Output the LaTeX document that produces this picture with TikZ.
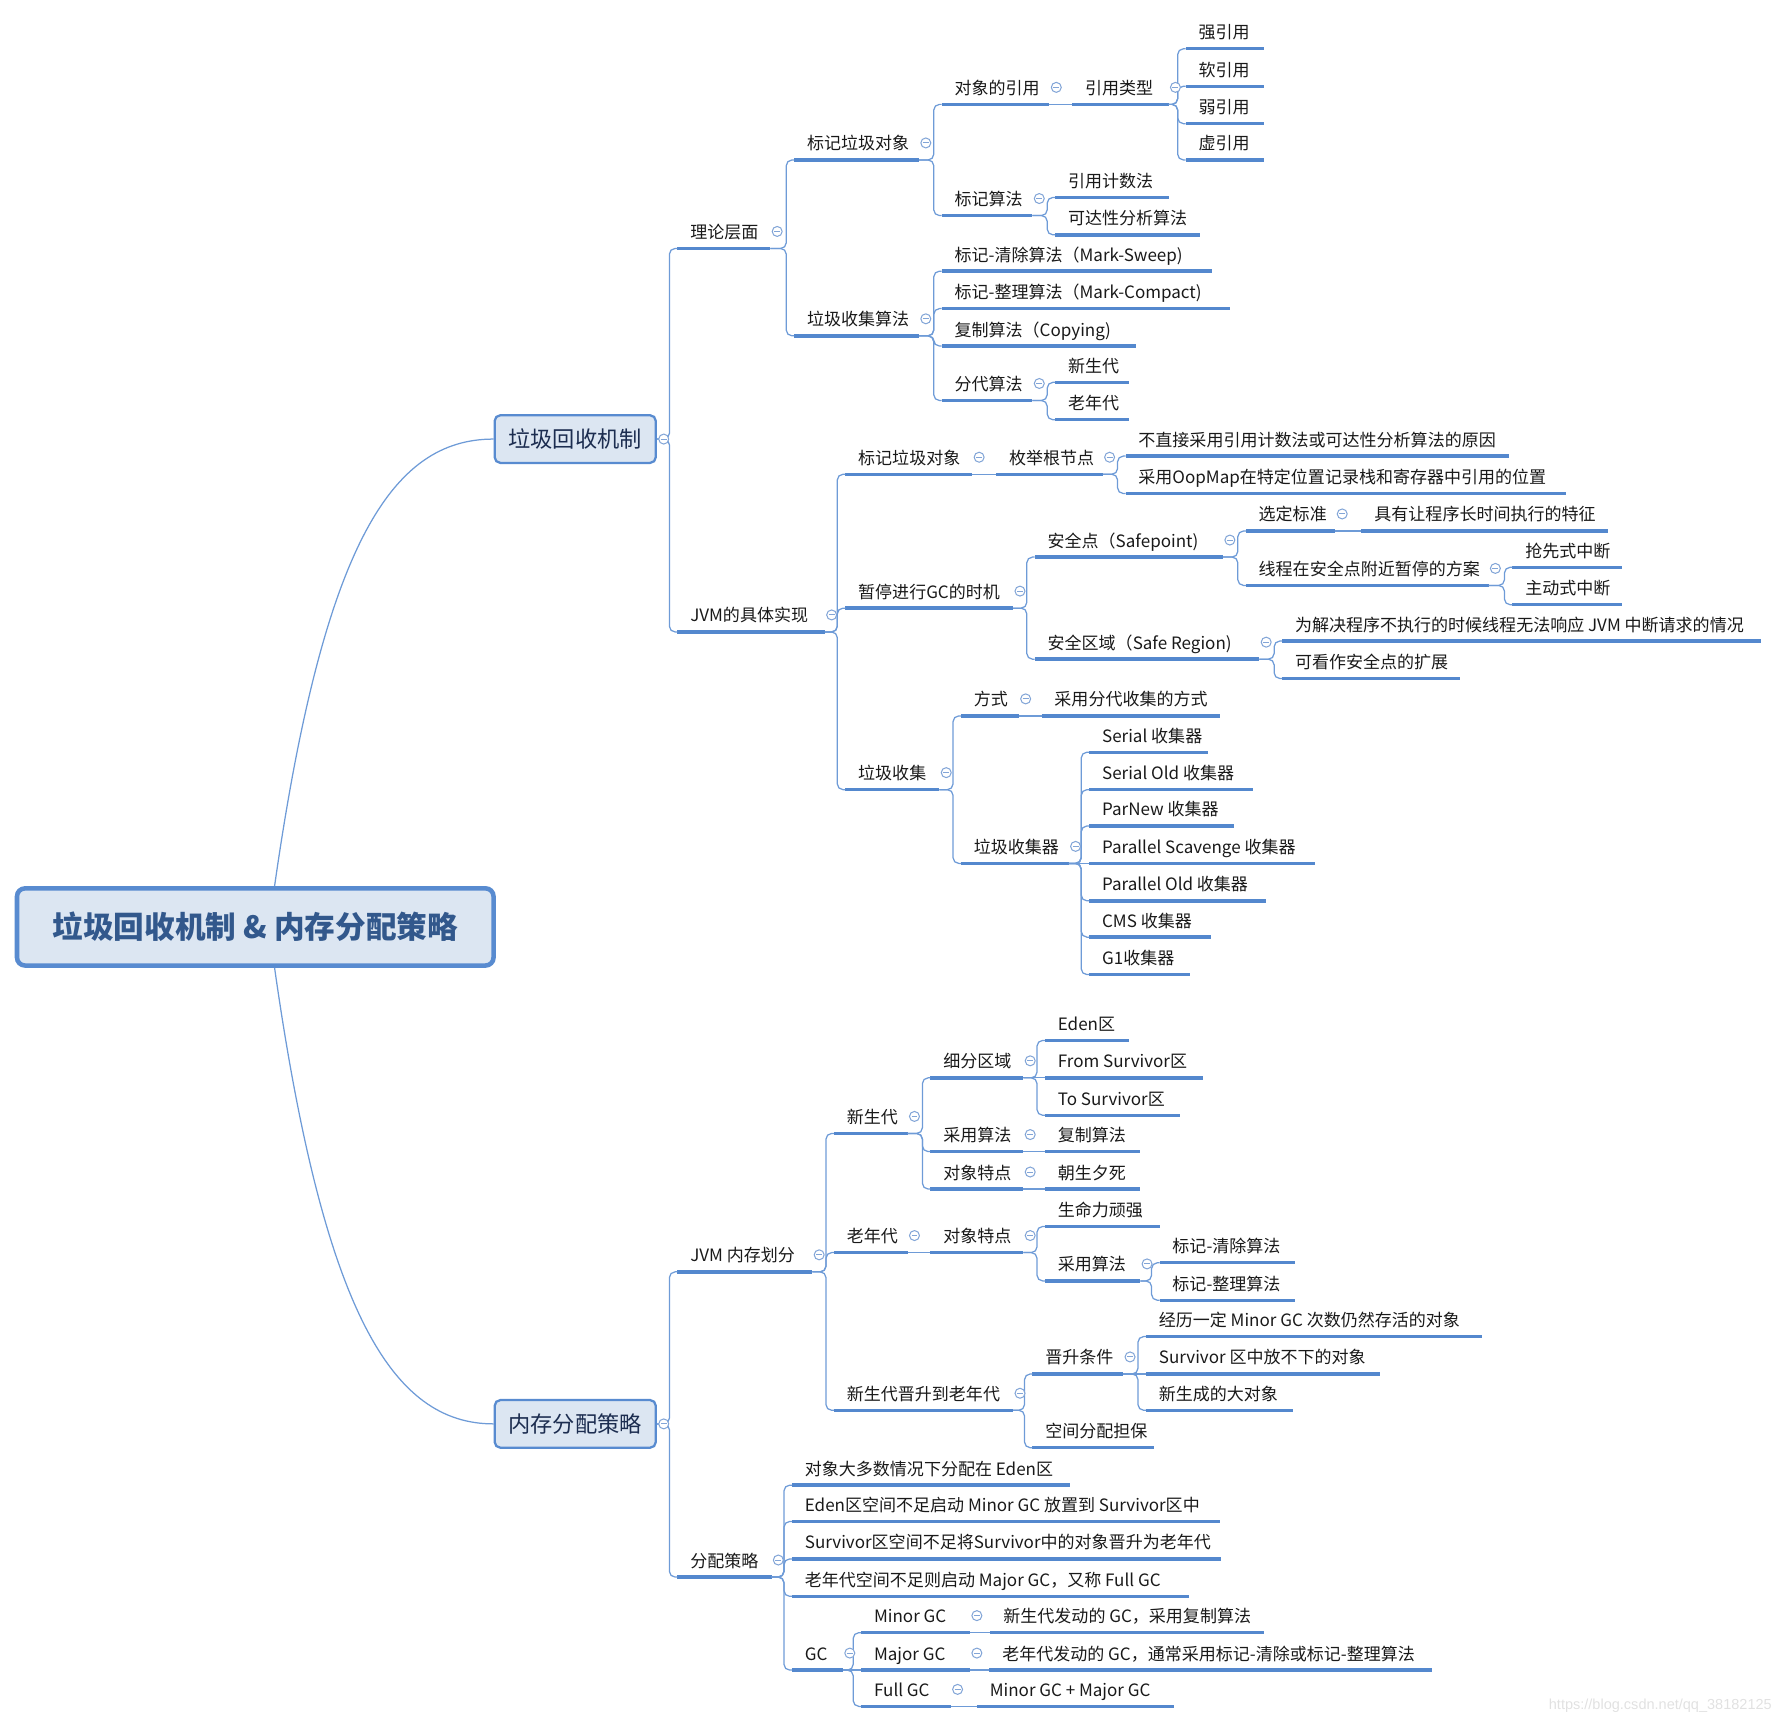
\documentclass[tikz,border=0pt]{standalone}
\usepackage{fontspec}
\setmainfont{Noto Sans CJK SC}
\newfontfamily\wmfont{Liberation Sans}
\usetikzlibrary{calc}
\definecolor{ulc}{RGB}{84,136,206}
\definecolor{cnc}{RGB}{110,155,215}
\definecolor{icc}{RGB}{130,165,215}
\definecolor{boxfill}{RGB}{220,230,242}
\definecolor{boxdraw}{RGB}{88,139,208}
\definecolor{roottext}{RGB}{50,88,140}
\definecolor{lonetext}{RGB}{28,45,80}
\definecolor{wmc}{RGB}{225,225,225}
\tikzset{
  nd/.style={anchor=south west, inner xsep=5.5pt, inner ysep=2pt, text depth=2.2pt,
    font=\fontsize{7.5pt}{9pt}\selectfont, text=black!90},
  ul/.style={draw=ulc, line width=1.5pt},
  cn/.style={draw=cnc, line width=0.55pt, rounded corners=2.5pt},
  link/.style={draw=cnc, line width=0.55pt},
  icon/.style={circle, draw=icc, fill=white, line width=0.45pt, minimum size=4.4pt, inner sep=0pt,
    path picture={\draw[icc, line width=0.45pt] ($(path picture bounding box.west)+(0.9pt,0)$) -- ($(path picture bounding box.east)+(-0.9pt,0)$);}},
  lone/.style={rectangle, rounded corners=2.5pt, draw=boxdraw, fill=boxfill, line width=1pt,
    minimum width=71pt, minimum height=21pt, font=\fontsize{9.8pt}{12pt}\selectfont, text=lonetext},
  rootbox/.style={rectangle, rounded corners=3.5pt, draw=boxdraw, fill=boxfill, line width=2pt,
    minimum width=210pt, minimum height=34pt, font=\bfseries\fontsize{13.5pt}{16pt}\selectfont, text=roottext},
}
\newcommand\mnode[5]{\node[nd] (#1) at (#2,#4) {#5}; \coordinate (#1-e) at (#3,#4); \draw[ul] (#1.south west) -- (#1-e);}
\newcommand\mconn[2]{\draw[cn] (#1-e) -| ($(#2.south west)+(-7,0)$) -- (#2.south west);}
\newcommand\mstraight[2]{\draw[link] (#1-e) -- (#2.south west);}
\newcommand\micon[1]{\node[icon] at ($(#1-e)+(6,-15)$) {};}
\begin{document}
\begin{tikzpicture}[x=0.5pt,y=-0.5pt]
\useasboundingbox (0,0) rectangle (1568,1519);
% root and level 1
\node[rootbox] (root) at (225,817) {垃圾回收机制 \& 内存分配策略};
\node[lone] (gcbox) at (507,387) {垃圾回收机制};
\node[lone] (membox) at (507,1255) {内存分配策略};
\coordinate (gcbox-e) at (gcbox.east);
\coordinate (membox-e) at (membox.east);
\draw[link] ($(root.north)+(17,0)$) .. controls (285,480) and (345,387) .. (gcbox.west);
\draw[link] ($(root.south)+(17,0)$) .. controls (285,1155) and (345,1255) .. (membox.west);

% ===== theory
\mnode{t}{597}{679}{219}{理论层面}
\mnode{tm}{700}{810}{141}{标记垃圾对象}
\mnode{tref}{830}{925}{92}{对象的引用}
\mnode{treft}{945}{1030}{92}{引用类型}
\mnode{r1}{1045}{1114}{43}{强引用}
\mnode{r2}{1045}{1114}{76}{软引用}
\mnode{r3}{1045}{1114}{109}{弱引用}
\mnode{r4}{1045}{1114}{141}{虚引用}
\mnode{talg}{830}{910}{190}{标记算法}
\mnode{a1}{930}{1030}{174}{引用计数法}
\mnode{a2}{930}{1058}{207}{可达性分析算法}
\mnode{tc}{700}{810}{296}{垃圾收集算法}
\mnode{c1}{830}{1068}{239}{标记-清除算法（Mark-Sweep)}
\mnode{c2}{830}{1084}{272}{标记-整理算法（Mark-Compact)}
\mnode{c3}{830}{1001}{305}{复制算法（Copying)}
\mnode{c4}{830}{910}{353}{分代算法}
\mnode{c41}{930}{995}{337}{新生代}
\mnode{c42}{930}{995}{370}{老年代}

% ===== JVM implementation
\mnode{j}{597}{727}{557}{JVM的具体实现}
\mnode{jm}{745}{857}{418}{标记垃圾对象}
\mnode{jmr}{878}{972}{418}{枚举根节点}
\mnode{jm1}{992}{1330}{402}{不直接采用引用计数法或可达性分析算法的原因}
\mnode{jm2}{992}{1380}{435}{采用OopMap在特定位置记录栈和寄存器中引用的位置}
\mnode{jp}{745}{893}{536}{暂停进行GC的时机}
\mnode{sp}{912}{1078}{491}{安全点（Safepoint)}
\mnode{spa}{1098}{1177}{468}{选定标准}
\mnode{spaa}{1200}{1417}{468}{具有让程序长时间执行的特征}
\mnode{spb}{1098}{1312}{516}{线程在安全点附近暂停的方案}
\mnode{spba}{1333}{1430}{500}{抢先式中断}
\mnode{spbb}{1333}{1430}{533}{主动式中断}
\mnode{sr}{912}{1110}{581}{安全区域（Safe Region)}
\mnode{sra}{1130}{1552}{565}{为解决程序不执行的时候线程无法响应 JVM 中断请求的情况}
\mnode{srb}{1130}{1287}{598}{可看作安全点的扩展}
\mnode{jg}{745}{828}{696}{垃圾收集}
\mnode{jgw}{847}{898}{631}{方式}
\mnode{jgwa}{918}{1075}{631}{采用分代收集的方式}
\mnode{jgc}{847}{942}{761}{垃圾收集器}
\mnode{ga}{960}{1065}{663}{Serial 收集器}
\mnode{gb}{960}{1104}{696}{Serial Old 收集器}
\mnode{gpn}{960}{1088}{728}{ParNew 收集器}
\mnode{gd}{960}{1159}{761}{Parallel Scavenge 收集器}
\mnode{ge}{960}{1116}{794}{Parallel Old 收集器}
\mnode{gf}{960}{1067}{826}{CMS 收集器}
\mnode{gg}{960}{1049}{859}{G1收集器}

% ===== memory
\mnode{m}{597}{716}{1121}{JVM 内存划分}
\mnode{my}{735}{800}{999}{新生代}
\mnode{mya}{820}{902}{950}{细分区域}
\mnode{ea}{921}{995}{917}{Eden区}
\mnode{eb}{921}{1060}{950}{From Survivor区}
\mnode{ec}{921}{1040}{983}{To Survivor区}
\mnode{myb}{820}{902}{1015}{采用算法}
\mnode{myba}{921}{1005}{1015}{复制算法}
\mnode{myc}{820}{902}{1048}{对象特点}
\mnode{myca}{921}{1005}{1048}{朝生夕死}
\mnode{mo}{735}{800}{1104}{老年代}
\mnode{moa}{820}{902}{1104}{对象特点}
\mnode{moaa}{921}{1022}{1081}{生命力顽强}
\mnode{moab}{921}{1005}{1129}{采用算法}
\mnode{moaba}{1022}{1141}{1113}{标记-清除算法}
\mnode{moabb}{1022}{1141}{1146}{标记-整理算法}
\mnode{mp}{735}{893}{1243}{新生代晋升到老年代}
\mnode{mpa}{910}{990}{1211}{晋升条件}
\mnode{mpaa}{1010}{1306}{1178}{经历一定 Minor GC 次数仍然存活的对象}
\mnode{mpab}{1010}{1216}{1211}{Survivor 区中放不下的对象}
\mnode{mpac}{1010}{1140}{1243}{新生成的大对象}
\mnode{mpb}{910}{1017}{1276}{空间分配担保}
\mnode{s}{597}{680}{1390}{分配策略}
\mnode{sa}{698}{943}{1309}{对象大多数情况下分配在 Eden区}
\mnode{sb}{698}{1075}{1341}{Eden区空间不足启动 Minor GC 放置到 Survivor区中}
\mnode{sc}{698}{1076}{1374}{Survivor区空间不足将Survivor中的对象晋升为老年代}
\mnode{sd}{698}{1048}{1407}{老年代空间不足则启动 Major GC，又称 Full GC}
\mnode{se}{698}{743}{1472}{GC}
\mnode{gminor}{759}{855}{1439}{Minor GC}
\mnode{gminora}{873}{1114}{1439}{新生代发动的 GC，采用复制算法}
\mnode{gmajor}{759}{855}{1472}{Major GC}
\mnode{gmajora}{872}{1262}{1472}{老年代发动的 GC，通常采用标记-清除或标记-整理算法}
\mnode{gfull}{759}{838}{1504}{Full GC}
\mnode{gfulla}{861}{1035}{1504}{Minor GC + Major GC}

% ===== connectors
\mconn{gcbox}{t} \mconn{gcbox}{j}
\mconn{t}{tm} \mconn{t}{tc}
\mconn{tm}{tref} \mconn{tm}{talg}
\mstraight{tref}{treft}
\mconn{treft}{r1} \mconn{treft}{r2} \mconn{treft}{r3} \mconn{treft}{r4}
\mconn{talg}{a1} \mconn{talg}{a2}
\mconn{tc}{c1} \mconn{tc}{c2} \mconn{tc}{c3} \mconn{tc}{c4}
\mconn{c4}{c41} \mconn{c4}{c42}
\mconn{j}{jm} \mconn{j}{jp} \mconn{j}{jg}
\mstraight{jm}{jmr}
\mconn{jmr}{jm1} \mconn{jmr}{jm2}
\mconn{jp}{sp} \mconn{jp}{sr}
\mconn{sp}{spa} \mconn{sp}{spb}
\mstraight{spa}{spaa}
\mconn{spb}{spba} \mconn{spb}{spbb}
\mconn{sr}{sra} \mconn{sr}{srb}
\mconn{jg}{jgw} \mconn{jg}{jgc}
\mstraight{jgw}{jgwa}
\mconn{jgc}{ga} \mconn{jgc}{gb} \mconn{jgc}{gpn} \mstraight{jgc}{gd}
\mconn{jgc}{ge} \mconn{jgc}{gf} \mconn{jgc}{gg}

\mconn{membox}{m} \mconn{membox}{s}
\mconn{m}{my} \mconn{m}{mo} \mconn{m}{mp}
\mconn{my}{mya} \mconn{my}{myb} \mconn{my}{myc}
\mconn{mya}{ea} \mstraight{mya}{eb} \mconn{mya}{ec}
\mstraight{myb}{myba} \mstraight{myc}{myca}
\mstraight{mo}{moa}
\mconn{moa}{moaa} \mconn{moa}{moab}
\mconn{moab}{moaba} \mconn{moab}{moabb}
\mconn{mp}{mpa} \mconn{mp}{mpb}
\mconn{mpa}{mpaa} \mstraight{mpa}{mpab} \mconn{mpa}{mpac}
\mconn{s}{sa} \mconn{s}{sb} \mconn{s}{sc} \mconn{s}{sd} \mconn{s}{se}
\mconn{se}{gminor} \mstraight{se}{gmajor} \mconn{se}{gfull}
\mstraight{gminor}{gminora} \mstraight{gmajor}{gmajora} \mstraight{gfull}{gfulla}

% ===== collapse icons
\node[icon] at (585,387) {};
\node[icon] at (585,1255) {};
\micon{t} \micon{tm} \micon{tref} \micon{treft} \micon{talg} \micon{tc} \micon{c4}
\micon{j} \micon{jm} \micon{jmr} \micon{jp} \micon{sp} \micon{spa} \micon{spb} \micon{sr}
\micon{jg} \micon{jgw} \micon{jgc}
\micon{m} \micon{my} \micon{mya} \micon{myb} \micon{myc} \micon{mo} \micon{moa} \micon{moab}
\micon{mp} \micon{mpa} \micon{s} \micon{se} \micon{gminor} \micon{gmajor} \micon{gfull}

% watermark
\node[anchor=east, inner sep=0pt, text=wmc, font=\wmfont\fontsize{6.4pt}{8pt}\selectfont] (wm) at (1562,1503) {https://blog.csdn.net/qq\_38182125};
\end{tikzpicture}
\end{document}
